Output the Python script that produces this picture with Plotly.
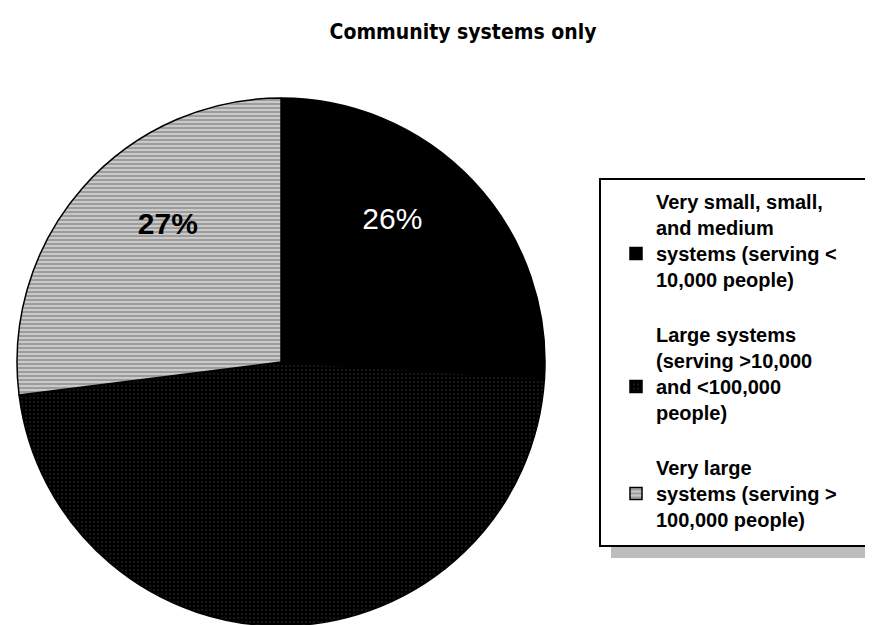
import plotly.graph_objects as go

# ---- data ----
title_text = "Community systems only"
categories = [
    "Very small, small,<br>and medium<br>systems (serving &lt;<br>10,000 people)<br> ",
    "Large systems<br>(serving &gt;10,000<br>and &lt;100,000<br>people)<br> ",
    "Very large<br>systems (serving &gt;<br>100,000 people)",
]
values = [26, 47, 27]

# ---- styling ----
W, H = 873, 625
slice_colors = ["#000000", "#000000", "#9c9c9c"]
pattern_shapes = ["", ".", "-"]
pattern_fg = ["#000000", "#6e6e6e", "#ffffff"]
pattern_size = [8, 4, 4]
pattern_solid = [0.3, 0.12, 0.45]
label_colors = ["#ffffff", "#000000", "#000000"]
# the middle slice's label is not legible in the original (dark on dark)
label_templates = ["%{value}%<br> <br> ", "", "<b>%{value}%</b><br> <br> "]


def px_x(v):
    return v / W


def px_y(v):
    return 1 - v / H


cx, cy, r = 273, 354, 264

fig = go.Figure(
    go.Pie(
        labels=categories,
        values=values,
        sort=False,
        direction="clockwise",
        rotation=0,
        marker=dict(
            colors=slice_colors,
            line=dict(color="#000000", width=1.5),
            pattern=dict(
                shape=pattern_shapes,
                fgcolor=pattern_fg,
                size=pattern_size,
                solidity=pattern_solid,
                fillmode="overlay",
            ),
        ),
        texttemplate=label_templates,
        textposition="inside",
        insidetextorientation="horizontal",
        textfont=dict(family="Liberation Sans, Arial, sans-serif", size=30, color=label_colors),
        hoverinfo="skip",
        domain=dict(x=[px_x(cx - r), px_x(cx + r)], y=[px_y(cy + r), px_y(cy - r)]),
        showlegend=True,
    )
)

# legend frame with drop shadow
fig.add_shape(type="rect", xref="paper", yref="paper",
              x0=px_x(603), x1=px_x(873), y0=px_y(550), y1=px_y(182),
              fillcolor="#bdbdbd", line=dict(width=0), layer="below")
fig.add_shape(type="rect", xref="paper", yref="paper",
              x0=px_x(592), x1=px_x(866), y0=px_y(538), y1=px_y(171),
              fillcolor="#ffffff", line=dict(color="#000000", width=2), layer="below")

fig.update_layout(
    width=W,
    height=H,
    margin=dict(l=0, r=0, t=0, b=0),
    paper_bgcolor="#ffffff",
    plot_bgcolor="#ffffff",
    title=dict(
        text="<b>" + title_text + "</b>",
        x=px_x(455), xanchor="center",
        y=px_y(24), yanchor="middle",
        font=dict(family="DejaVu Sans Condensed, Liberation Sans Narrow, Arial Narrow, sans-serif",
                  size=21, color="#000000"),
    ),
    legend=dict(
        x=px_x(608), xanchor="left",
        y=px_y(174), yanchor="top",
        bgcolor="rgba(0,0,0,0)",
        borderwidth=0,
        font=dict(family="Liberation Sans, Arial, sans-serif", size=20, color="#000000", weight="bold"),
        traceorder="normal",
    ),
)

fig.write_html("out.html")
